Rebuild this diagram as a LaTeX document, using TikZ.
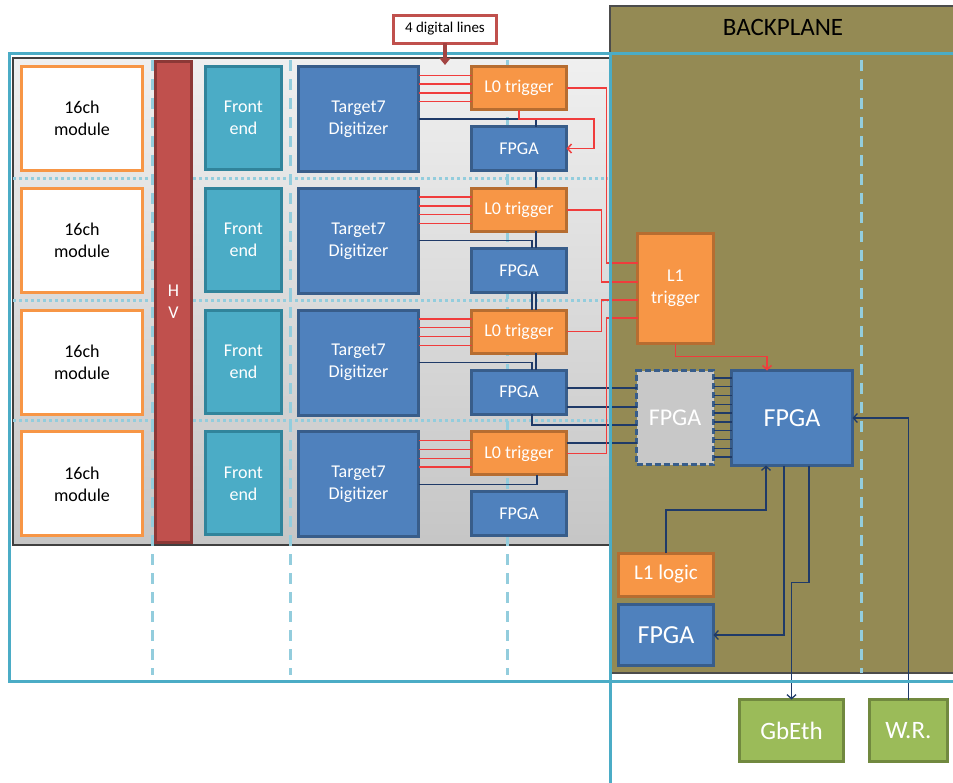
\documentclass[tikz,border=0pt]{standalone}
\usepackage{fontspec}
\setmainfont{Carlito}
\usetikzlibrary{arrows.meta}

\definecolor{modorange}{HTML}{F79646}
\definecolor{trigdark}{HTML}{B66D31}
\definecolor{feteal}{HTML}{4BACC6}
\definecolor{fedark}{HTML}{31849B}
\definecolor{chipblue}{HTML}{4F81BD}
\definecolor{chipdark}{HTML}{385D8A}
\definecolor{hvred}{HTML}{C0504D}
\definecolor{hvdark}{HTML}{8C3836}
\definecolor{ethgreen}{HTML}{9BBB59}
\definecolor{ethdark}{HTML}{71893F}
\definecolor{bpolive}{HTML}{948A54}
\definecolor{frameblue}{HTML}{4BACC6}
\definecolor{gridblue}{HTML}{93CDDD}
\definecolor{wireblue}{HTML}{1F3A68}
\definecolor{trigred}{HTML}{F03C3C}
\definecolor{notered}{HTML}{C0504D}
\definecolor{ghostgray}{HTML}{C8C8C8}

\begin{document}
\begin{tikzpicture}[x = 1pt, y = -1pt, > = {Straight Barb[length = 4pt, width = 9pt]},
	box/.style = {draw, line width = 3pt, inner sep = 1pt, outer sep = 0pt, align = center,
		text = white, font = \fontsize{18}{22}\selectfont},
	module/.style = {box, fill = white, draw = modorange, text = black, minimum width = 121pt, minimum height = 104pt},
	frontend/.style = {box, fill = feteal, draw = fedark, minimum width = 76pt, minimum height = 103pt},
	digitizer/.style = {box, fill = chipblue, draw = chipdark, minimum width = 120pt, minimum height = 105pt},
	trigger/.style = {box, fill = modorange, draw = trigdark, minimum width = 95pt, minimum height = 43pt},
	fpga/.style = {box, fill = chipblue, draw = chipdark, minimum width = 95pt, minimum height = 44pt},
	netbox/.style = {box, fill = ethgreen, draw = ethdark, minimum height = 62pt, font = \fontsize{25}{28}\selectfont},
	sig/.style = {trigred, line width = 1.5pt},
	bus/.style = {wireblue, line width = 1.3pt},
	colline/.style = {gridblue, line width = 3pt, dash pattern = on 11pt off 8pt},
	rowline/.style = {gridblue, line width = 3pt, dash pattern = on 2.5pt off 3.5pt}]

	% Definitions

	\def\rowsep{121.8}	% vertical pitch of the four board rows

	\useasboundingbox (0, 0) rectangle (953, 782);

	% Backplane and board

	\draw [fill = bpolive, draw = black!70, line width = 2pt] (610, 6) rectangle (965, 673);
	\node [font = \fontsize{25}{28}\selectfont] (bptitle) at (783, 27) {BACKPLANE};

	\draw [draw = black!75, line width = 2pt, top color = gray!12, bottom color = gray!45] (13, 58) rectangle (610, 545);

	% Grid lines

	\foreach \y in {178, 300, 420}
		\draw [rowline] (13, \y) -- (608, \y);
	\foreach \x in {152, 290, 507}
		\draw [colline] (\x, 60) -- (\x, 675);
	\draw [colline] (861, 60) -- (861, 673);

	% Board rows

	\node [box, fill = hvred, draw = hvdark, minimum width = 36pt, minimum height = 481pt] (hv) at (173.5, 302) {H\\V};

	\foreach \r in {1, 2, 3, 4} {
		\pgfmathsetmacro{\dy}{(\r - 1) * \rowsep}
		\node [module] (mod-\r) at (82, 118.5 + \dy) {16ch\\module};
		\node [frontend] (fe-\r) at (243.5, 118 + \dy) {Front\\end};
		\node [digitizer] (dig-\r) at (358.5, 119 + \dy) {Target7\\Digitizer};
		\node [trigger] (l0-\r) at (519, 88 + \dy) {L0 trigger};
		\node [fpga] (fpga-\r) at (519, 148.5 + \dy) {FPGA};

		% four digital lines into each L0 trigger
		\foreach \k in {1, 2, 3, 4} {
			\coordinate (p) at ([yshift = {-8.8pt * \k}] l0-\r.north west);
			\draw [sig] (p -| dig-\r.east) -- (p);
		}
	}

	% Backplane boxes

	\node [trigger, minimum width = 76pt, minimum height = 110pt] (l1) at (675.5, 288.5) {L1\\trigger};
	\node [box, fill = ghostgray, draw = chipdark, dash pattern = on 6pt off 3pt, minimum width = 77pt, minimum height = 94pt,
		font = \fontsize{24}{28}\selectfont] (gfpga) at (675, 417.5) {FPGA};
	\node [fpga, minimum width = 121pt, minimum height = 95pt, font = \fontsize{26}{30}\selectfont] (bfpga) at (792, 418) {FPGA};
	\node [trigger, font = \fontsize{21}{24}\selectfont] (l1logic) at (666, 574.5) {L1 logic};
	\node [fpga, minimum height = 61pt, font = \fontsize{26}{30}\selectfont] (fpgaout) at (666, 635) {FPGA};
	\node [netbox, minimum width = 104pt] (gbeth) at (791.5, 730.5) {GbEth};
	\node [netbox, minimum width = 78pt] (wr) at (908.5, 730.5) {W.R.};

	% Board wiring

	\draw [bus] (dig-1.east) -| ([xshift = 17pt] l0-1.south |- fpga-1.north);
	\draw [bus] (dig-2.east) -| ([xshift = 13pt] fpga-2.north);
	\draw [bus] (dig-3.east) -| ([xshift = 13pt] fpga-3.north);
	\draw [bus] (dig-4.east) -| ([xshift = 18pt] l0-4.south);

	\draw [bus] ([xshift = 17pt] fpga-1.south) -- ([xshift = 17pt] l0-2.north);
	\draw [bus] ([xshift = 17pt] l0-2.south) -- ([xshift = 17pt] fpga-2.north);
	\draw [bus] ([xshift = 13pt] fpga-2.south) -- ([xshift = 13pt] l0-3.north);
	\draw [bus] ([xshift = 17pt] fpga-2.south) -- ([xshift = 17pt] l0-3.north);
	\draw [bus] ([xshift = 17pt] l0-3.south) -- ([xshift = 17pt] fpga-3.north);

	\draw [sig, ->] (l0-1.south) -- (l0-1.south |- dig-1.east) -- ++(75, 0) |- (fpga-1.east);

	% Links into the backplane FPGA

	\foreach \dy in {29.5, 10.5} {
		\coordinate (q) at ([yshift = \dy pt] gfpga.west);
		\draw [bus] (q -| fpga-3.east) -- (q);
	}
	\draw [bus] ([xshift = 13pt] fpga-3.south) |- ([yshift = -7.5pt] gfpga.west);
	\coordinate (q) at ([yshift = -25.5pt] gfpga.west);
	\draw [bus] (q -| l0-4.east) -- (q);

	\foreach \k in {0, ..., 9} {
		\coordinate (q) at ([yshift = {39.5pt - 8.78pt * \k}] gfpga.east);
		\draw [bus] (q) -- (q -| bfpga.west);
	}

	% L0 triggers to L1 trigger

	\draw [sig] (l0-1.east) -| ([xshift = -31pt, yshift = 25.5pt] l1.west) -- ([yshift = 25.5pt] l1.west);
	\draw [sig] (l0-2.east) -| ([xshift = -36pt, yshift = 6.5pt] l1.west) -- ([yshift = 6.5pt] l1.west);
	\draw [sig] (l0-3.east) -| ([xshift = -36pt, yshift = -11.5pt] l1.west) -- ([yshift = -11.5pt] l1.west);
	\draw [sig] (l0-4.east) -| ([xshift = -31pt, yshift = -29.5pt] l1.west) -- ([yshift = -29.5pt] l1.west);

	\draw [sig, ->] (l1.south) -- ++(0, 13) -| ([xshift = -25pt] bfpga.north);

	% Backplane wiring

	\draw [bus, ->] (l1logic.north) -- ++(0, -43) -| ([xshift = -26pt] bfpga.south);
	\draw [bus, ->] ([xshift = -8pt] bfpga.south) |- (fpgaout.east);
	\draw [bus, ->] ([xshift = 17pt] bfpga.south) -- ++(0, 117) -| (gbeth.north);
	\draw [bus, ->] (wr.north) |- (bfpga.east);

	% Frames

	\draw [frameblue, line width = 3pt] (9, 53) rectangle (965, 681);
	\draw [frameblue, line width = 3pt] (610, 53) rectangle (965, 800);

	% Note

	\node [box, fill = white, draw = notered, text = black, minimum width = 103pt, minimum height = 28pt,
		font = \fontsize{15}{18}\selectfont] (note) at (445, 29) {4 digital lines};
	\coordinate (notetip) at (445, 65);
	\draw [notered!85!black, line width = 3.5pt, -{Triangle[length = 7pt, width = 11pt]}] (note.south) -- (notetip);

\end{tikzpicture}
\end{document}
